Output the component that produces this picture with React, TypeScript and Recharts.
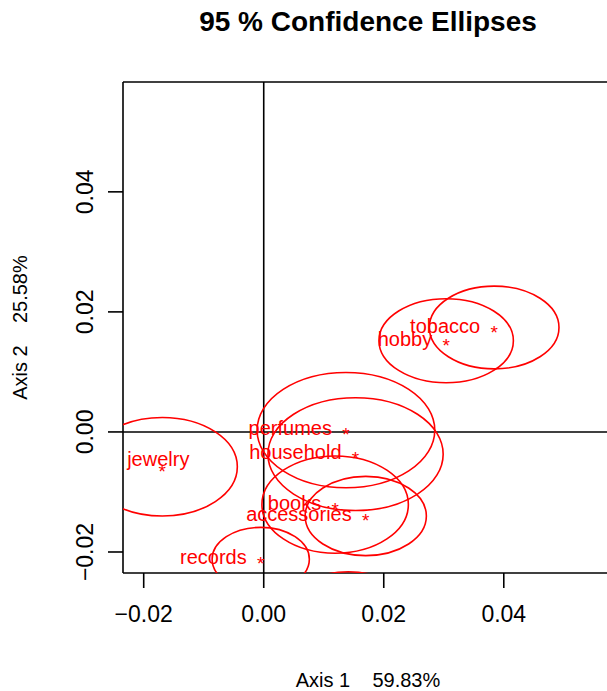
import { ScatterChart, Scatter, XAxis, YAxis, ReferenceLine } from "recharts"

// coordinates of each category on axes 1 and 2, and the half-widths of its 95% ellipse
const categories = ["tobacco", "hobby", "perfumes", "household", "jewelry", "books", "accessories", "records", "other"]
const axis1 = [0.0384, 0.0304, 0.0137, 0.0153, -0.0169, 0.0119, 0.017, -0.0005, 0.0141]
const axis2 = [0.0174, 0.0152, 0.0003, -0.0037, -0.0058, -0.0121, -0.014, -0.0212, -0.0308]
const radius1 = [0.0108, 0.0112, 0.0148, 0.0146, 0.0125, 0.0122, 0.0101, 0.0081, 0.011]
const radius2 = [0.0069, 0.007, 0.0096, 0.0094, 0.0082, 0.0081, 0.0066, 0.0053, 0.0075]
const ticks = [-0.02, 0, 0.02, 0.04]

const data = categories.map((name, i) => ({
  name,
  x: axis1[i],
  y: axis2[i],
  rx: radius1[i],
  ry: radius2[i],
}))

const W = 613
const H = 691
const LEFT = 123
const TOP = 82
const BOTTOM = 118
const X_DOMAIN: [number, number] = [-0.02345, 0.0582]
const Y_DOMAIN: [number, number] = [-0.0235, 0.0583]
const PX = (W - LEFT) / (X_DOMAIN[1] - X_DOMAIN[0])
const PY = (H - TOP - BOTTOM) / (Y_DOMAIN[1] - Y_DOMAIN[0])

const RED = "#FF0000"
const FONT = "'Liberation Sans', Arial, Helvetica, sans-serif"
const LW = 1.6

const fmt = (v: number) => (v < 0 ? "\u2212" : "") + Math.abs(v).toFixed(2)

// where each name sits relative to its point
const labelPlace: Record<string, { dx: number; dy: number; anchor: string }> = {
  jewelry: { dx: -4, dy: -1, anchor: "middle" },
}
const defaultPlace = { dx: -14, dy: 5, anchor: "end" }

function EllipseShape(props: any) {
  const { cx, cy, payload } = props
  return (
    <ellipse
      cx={cx}
      cy={cy}
      rx={payload.rx * PX}
      ry={payload.ry * PY}
      fill="none"
      stroke={RED}
      strokeWidth={LW}
    />
  )
}

function PointShape(props: any) {
  const { cx, cy, payload } = props
  const p = labelPlace[payload.name] || defaultPlace
  return (
    <g fontFamily={FONT} fill={RED}>
      <text x={cx} y={cy + 11} fontSize={19} textAnchor="middle">
        *
      </text>
      <text x={cx + p.dx} y={cy + p.dy} fontSize={20} textAnchor={p.anchor}>
        {payload.name}
      </text>
    </g>
  )
}

function XTick(props: any) {
  const { x, y, payload } = props
  return (
    <text x={x} y={y + 32} textAnchor="middle" fontSize={23} fontFamily={FONT} fill="#000">
      {fmt(payload.value)}
    </text>
  )
}

function YTick(props: any) {
  const { x, y, payload } = props
  const bx = x - 13
  return (
    <text
      x={bx}
      y={y}
      transform={`rotate(-90, ${bx}, ${y})`}
      textAnchor="middle"
      fontSize={23}
      fontFamily={FONT}
      fill="#000"
    >
      {fmt(payload.value)}
    </text>
  )
}

function XLabel(props: any) {
  const vb = props.viewBox
  return (
    <text
      x={vb.x + vb.width / 2}
      y={vb.y + 114}
      textAnchor="middle"
      fontSize={20}
      fontFamily={FONT}
      fill="#000"
      style={{ whiteSpace: "pre" }}
    >
      {"Axis 1    59.83%"}
    </text>
  )
}

function YLabel(props: any) {
  const vb = props.viewBox
  const lx = 27
  const ly = vb.y + vb.height / 2
  return (
    <text
      x={lx}
      y={ly}
      transform={`rotate(-90, ${lx}, ${ly})`}
      textAnchor="middle"
      fontSize={20}
      fontFamily={FONT}
      fill="#000"
      style={{ whiteSpace: "pre" }}
    >
      {"Axis 2    25.58%"}
    </text>
  )
}

export default function App() {
  return (
    <div
      style={{
        position: "absolute",
        left: 0,
        top: 0,
        width: 607,
        height: 691,
        overflow: "hidden",
        background: "#fff",
      }}
    >
      <div
        style={{
          position: "absolute",
          left: 0,
          top: 7,
          width: 736,
          textAlign: "center",
          fontFamily: FONT,
          fontWeight: "bold",
          fontSize: 28,
          lineHeight: "30px",
          color: "#000",
        }}
      >
        95 % Confidence Ellipses
      </div>
      <ScatterChart width={W} height={H} margin={{ top: TOP, right: 0, bottom: 0, left: 0 }}>
        <XAxis
          type="number"
          dataKey="x"
          domain={X_DOMAIN}
          allowDataOverflow
          ticks={ticks}
          interval={0}
          height={BOTTOM}
          tickSize={15}
          tick={<XTick />}
          axisLine={{ stroke: "#000", strokeWidth: LW }}
          tickLine={{ stroke: "#000", strokeWidth: LW }}
          label={<XLabel />}
        />
        <YAxis
          type="number"
          dataKey="y"
          domain={Y_DOMAIN}
          allowDataOverflow
          ticks={ticks}
          interval={0}
          width={LEFT}
          tickSize={15}
          tick={<YTick />}
          axisLine={{ stroke: "#000", strokeWidth: LW }}
          tickLine={{ stroke: "#000", strokeWidth: LW }}
          label={<YLabel />}
        />
        <ReferenceLine y={Y_DOMAIN[1]} stroke="#000" strokeWidth={LW} />
        <ReferenceLine x={X_DOMAIN[1]} stroke="#000" strokeWidth={LW} />
        <ReferenceLine x={0} stroke="#000" strokeWidth={LW} />
        <ReferenceLine y={0} stroke="#000" strokeWidth={LW} />
        <Scatter data={data} shape={<EllipseShape />} isAnimationActive={false} />
        <Scatter data={data} shape={<PointShape />} isAnimationActive={false} />
      </ScatterChart>
    </div>
  )
}
